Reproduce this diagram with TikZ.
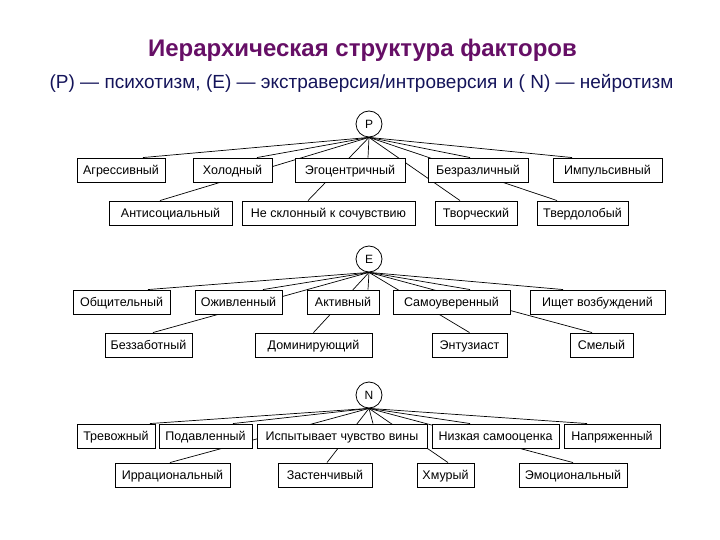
\documentclass[tikz,border=0pt]{standalone}
\usepackage{fontspec}
\setmainfont{Liberation Sans}
\usetikzlibrary{backgrounds}
\definecolor{titlecol}{HTML}{660F66}
\definecolor{subcol}{HTML}{14145A}
\begin{document}
\begin{tikzpicture}[x=1pt,y=-1pt,
  trait/.style={draw=black,line width=0.9pt,fill=white,minimum height=24pt,inner sep=1pt,text height=10pt,text depth=1.5pt,font=\fontsize{12.5}{13}\selectfont,text=black},
  factor/.style={draw=black,line width=0.8pt,fill=white,circle,minimum size=26pt,inner sep=0pt,font=\fontsize{12}{13}\selectfont},
  link/.style={line width=0.7pt,black}]
\useasboundingbox (0,0) rectangle (720,540);
\node[font=\bfseries\fontsize{24}{28}\selectfont,text=titlecol] (title) at (362.5,50) {Иерархическая структура факторов};
\node[font=\fontsize{19}{22}\selectfont,text=subcol] (subtitle) at (361.5,83) {(P) — психотизм, (E) — экстраверсия/интроверсия и ( N) — нейротизм};
% P
\node[factor] (P) at (369,124) {P};
\node[trait,minimum width=88] (agr) at (121,170) {Агрессивный};
\node[trait,minimum width=79] (hol) at (232.5,170) {Холодный};
\node[trait,minimum width=110] (ego) at (350,170) {Эгоцентричный};
\node[trait,minimum width=100] (bez) at (478,170) {Безразличный};
\node[trait,minimum width=109] (imp) at (607.5,170) {Импульсивный};
\node[trait,minimum width=123] (ant) at (170.5,213) {Антисоциальный};
\node[trait,minimum width=173] (nes) at (328.5,213) {Не склонный к сочувствию};
\node[trait,minimum width=82] (tvo) at (476,213) {Творческий};
\node[trait,minimum width=91] (tve) at (582.5,213) {Твердолобый};
% E
\node[factor] (E) at (369,259) {E};
\node[trait,minimum width=97] (obs) at (121.5,302) {Общительный};
\node[trait,minimum width=87] (ozh) at (238.5,302) {Оживленный};
\node[trait,minimum width=72] (akt) at (343,302) {Активный};
\node[trait,minimum width=117] (sam) at (451.5,302) {Самоуверенный};
\node[trait,minimum width=135] (ish) at (597.5,302) {Ищет возбуждений};
\node[trait,minimum width=87] (bzz) at (148.5,345) {Беззаботный};
\node[trait,minimum width=117] (dom) at (313.5,345) {Доминирующий};
\node[trait,minimum width=75] (ent) at (469.5,345) {Энтузиаст};
\node[trait,minimum width=63] (sme) at (601.5,345) {Смелый};
% N
\node[factor] (N) at (369,395) {N};
\node[trait,minimum width=78] (tre) at (116,436) {Тревожный};
\node[trait,minimum width=93] (pod) at (205.5,436) {Подавленный};
\node[trait,minimum width=170] (isp) at (342,436) {Испытывает чувство вины};
\node[trait,minimum width=127] (niz) at (495.5,436) {Низкая самооценка};
\node[trait,minimum width=96] (nap) at (612,436) {Напряженный};
\node[trait,minimum width=115] (irr) at (172.5,475) {Иррациональный};
\node[trait,minimum width=94] (zas) at (325,475) {Застенчивый};
\node[trait,minimum width=57] (hmu) at (445.5,475) {Хмурый};
\node[trait,minimum width=108] (emo) at (573,475) {Эмоциональный};
\begin{pgfonlayer}{background}
\draw[link] (P.south) -- ([xshift=22]agr.north);
\draw[link] (P.south) -- ([xshift=24.5]hol.north);
\draw[link] (P.south) -- ([xshift=18]ego.north);
\draw[link] (P.south) -- ([xshift=-8]bez.north);
\draw[link] (P.south) -- ([xshift=-35.5]imp.north);
\draw[link] (P.south) -- ([xshift=-10.5]ant.north);
\draw[link] (P.south) -- ([xshift=-20.5]nes.north);
\draw[link] (P.south) -- ([xshift=-16]tvo.north);
\draw[link] (P.south) -- ([xshift=-25.5]tve.north);
\draw[link] (E.south) -- ([xshift=26.5]obs.north);
\draw[link] (E.south) -- ([xshift=24.5]ozh.north);
\draw[link] (E.south) -- ([xshift=25]akt.north);
\draw[link] (E.south) -- ([xshift=18.5]sam.north);
\draw[link] (E.south) -- ([xshift=-34.5]ish.north);
\draw[link] (E.south) -- ([xshift=4.5]bzz.north);
\draw[link] (E.south) -- (dom.north);
\draw[link] (E.south) -- (ent.north);
\draw[link] (E.south) -- ([xshift=-9.5]sme.north);
\draw[link] (N.south) -- ([xshift=34]tre.north);
\draw[link] (N.south) -- ([xshift=27.5]pod.north);
\draw[link] (N.south) -- ([xshift=31]isp.north);
\draw[link] (N.south) -- ([xshift=-25.5]niz.north);
\draw[link] (N.south) -- ([xshift=-25]nap.north);
\draw[link] (N.south) -- ([xshift=-2.5]irr.north);
\draw[link] (N.south) -- ([xshift=2]zas.north);
\draw[link] (N.south) -- ([xshift=2.5]hmu.north);
\draw[link] (N.south) -- (emo.north);
\end{pgfonlayer}
\end{tikzpicture}
\end{document}
